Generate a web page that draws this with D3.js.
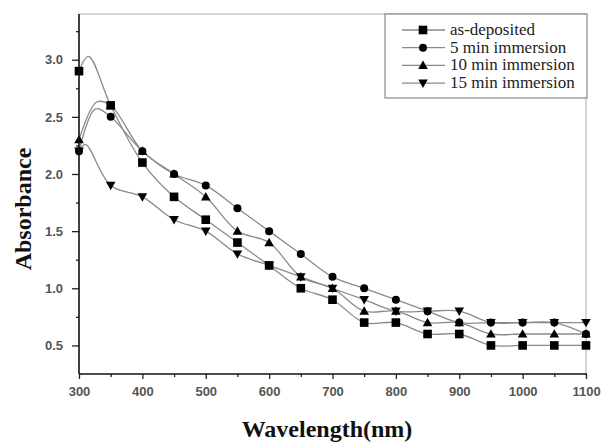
<!DOCTYPE html>
<html>
<head>
<meta charset="utf-8">
<script src="https://cdn.jsdelivr.net/npm/d3@7"></script>
<style>
  html, body { margin: 0; padding: 0; background: #fff; }
  svg { display: block; }
</style>
</head>
<body>
<svg id="chart" width="605" height="443"></svg>
<script>
// Wavelengths at which absorbance was sampled (nm)
const wavelength = [300, 350, 400, 450, 500, 550, 600, 650, 700, 750, 800, 850, 900, 950, 1000, 1050, 1100];

// Absorbance of each film
const asDeposited = [2.9, 2.6, 2.1, 1.8, 1.6, 1.4, 1.2, 1.0, 0.9, 0.7, 0.7, 0.6, 0.6, 0.5, 0.5, 0.5, 0.5];
const min5  = [2.2, 2.5, 2.2, 2.0, 1.9, 1.7, 1.5, 1.3, 1.1, 1.0, 0.9, 0.8, 0.7, 0.7, 0.7, 0.7, 0.6];
const min10 = [2.3, 2.6, 2.2, 2.0, 1.8, 1.5, 1.4, 1.1, 1.0, 0.8, 0.8, 0.7, 0.7, 0.6, 0.6, 0.6, 0.6];
const min15 = [2.2, 1.9, 1.8, 1.6, 1.5, 1.3, 1.2, 1.1, 1.0, 0.9, 0.8, 0.8, 0.8, 0.7, 0.7, 0.7, 0.7];

// Absorption edge maximum of each spectrum (nm, absorbance)
const crestNm  = [315, 326, 328, 310];
const crestAbs = [3.03, 2.57, 2.63, 2.26];

const seriesNames = ["as-deposited", "5 min immersion", "10 min immersion", "15 min immersion"];
const seriesSymbols = ["square", "circle", "triangleUp", "triangleDown"];

// Axis ticks
const xTicks = [300, 400, 500, 600, 700, 800, 900, 1000, 1100];
const xMinorTicks = [350, 450, 550, 650, 750, 850, 950, 1050];
const yTicks = [0.5, 1.0, 1.5, 2.0, 2.5, 3.0];
const yMinorTicks = [0.75, 1.25, 1.75, 2.25, 2.75, 3.25];

const seriesValues = [asDeposited, min5, min10, min15];
const series = seriesNames.map((name, i) => ({
  name,
  symbol: seriesSymbols[i],
  points: wavelength.map((w, j) => ({ x: w, y: seriesValues[i][j] })),
  crest: { x: crestNm[i], y: crestAbs[i] }
}));

const svg = d3.select("#chart");
const plotLeft = 79, plotRight = 586, plotTop = 14, plotBottom = 374;

const x = d3.scaleLinear().domain([300, 1100]).range([plotLeft, plotRight]);
const y = d3.scaleLinear().domain([0.25, 3.4]).range([plotBottom, plotTop]);

const lineGrey = "#8a8a8a";

// Frame: light top and right edges
svg.append("line").attr("x1", plotLeft).attr("x2", plotRight).attr("y1", plotTop).attr("y2", plotTop)
  .attr("stroke", "#aaa").attr("stroke-width", 1.2);
svg.append("line").attr("x1", plotRight).attr("x2", plotRight).attr("y1", plotTop).attr("y2", plotBottom)
  .attr("stroke", "#bbb").attr("stroke-width", 1.2);

// Curves through the samples
const line = d3.line()
  .x(d => x(d.x))
  .y(d => y(d.y))
  .curve(d3.curveCatmullRom.alpha(0.5));

const plot = svg.append("g");
series.forEach(s => {
  const pts = s.points.concat([s.crest]).sort((a, b) => a.x - b.x);
  plot.append("path")
    .attr("d", line(pts))
    .attr("fill", "none")
    .attr("stroke", lineGrey)
    .attr("stroke-width", 1.3);
});

// Marker shapes
function drawSymbol(g, kind, cx, cy) {
  if (kind === "square") {
    g.append("rect").attr("x", cx - 4.3).attr("y", cy - 4.3)
      .attr("width", 8.6).attr("height", 8.6).attr("fill", "#000");
  } else if (kind === "circle") {
    g.append("circle").attr("cx", cx).attr("cy", cy).attr("r", 4).attr("fill", "#000");
  } else if (kind === "triangleUp") {
    g.append("path").attr("d", `M${cx},${cy - 4.8}L${cx + 4.8},${cy + 3.6}L${cx - 4.8},${cy + 3.6}Z`)
      .attr("fill", "#000");
  } else {
    g.append("path").attr("d", `M${cx},${cy + 4.8}L${cx + 4.8},${cy - 3.6}L${cx - 4.8},${cy - 3.6}Z`)
      .attr("fill", "#000");
  }
}

const markers = svg.append("g");
series.forEach(s => {
  s.points.forEach(p => drawSymbol(markers, s.symbol, x(p.x), y(p.y)));
});

// Axes
const tickFont = "'Liberation Sans', Arial, sans-serif";

const xAxis = svg.append("g").attr("transform", `translate(0,${plotBottom})`)
  .call(d3.axisBottom(x).tickValues(xTicks).tickSize(5).tickPadding(8).tickFormat(d3.format("d")));
const xMinor = svg.append("g").attr("transform", `translate(0,${plotBottom})`)
  .call(d3.axisBottom(x).tickValues(xMinorTicks).tickSize(3).tickFormat(""));

const yAxis = svg.append("g").attr("transform", `translate(${plotLeft},0)`)
  .call(d3.axisLeft(y).tickValues(yTicks).tickSize(7).tickPadding(9).tickFormat(d3.format(".1f")));
const yMinor = svg.append("g").attr("transform", `translate(${plotLeft},0)`)
  .call(d3.axisLeft(y).tickValues(yMinorTicks).tickSize(3).tickFormat(""));

[xAxis, xMinor, yAxis, yMinor].forEach(a => {
  a.select(".domain").remove();
  a.selectAll(".tick line").attr("stroke", "#222").attr("stroke-width", 1.3);
  a.selectAll(".tick text")
    .attr("fill", "#555")
    .style("font-family", tickFont)
    .style("font-size", "13px")
    .style("font-weight", "bold");
});

// Axis lines
svg.append("line").attr("x1", plotLeft).attr("x2", plotRight + 1).attr("y1", plotBottom).attr("y2", plotBottom)
  .attr("stroke", "#111").attr("stroke-width", 1.6);
svg.append("line").attr("x1", plotLeft).attr("x2", plotLeft).attr("y1", plotTop).attr("y2", plotBottom)
  .attr("stroke", "#111").attr("stroke-width", 1.6);

// Axis titles
const titleFont = "'Liberation Serif', 'Times New Roman', serif";
svg.append("text")
  .attr("x", 327).attr("y", 437)
  .attr("text-anchor", "middle")
  .style("font-family", titleFont).style("font-size", "24px").style("font-weight", "bold")
  .attr("fill", "#111")
  .text("Wavelength(nm)");
svg.append("text")
  .attr("transform", "translate(31,209) rotate(-90)")
  .attr("text-anchor", "middle")
  .style("font-family", titleFont).style("font-size", "24px").style("font-weight", "bold")
  .attr("fill", "#111")
  .text("Absorbance");

// Legend
const legend = svg.append("g");
legend.append("rect")
  .attr("x", 385).attr("y", plotTop).attr("width", 202).attr("height", 84)
  .attr("fill", "#fff").attr("stroke", "#888").attr("stroke-width", 1.2);
series.forEach((s, i) => {
  const ly = 30 + i * 17.7;
  legend.append("line").attr("x1", 402).attr("x2", 445).attr("y1", ly).attr("y2", ly)
    .attr("stroke", lineGrey).attr("stroke-width", 1.3);
  drawSymbol(legend, s.symbol, 423, ly);
  legend.append("text")
    .attr("x", 450).attr("y", ly + 5)
    .style("font-family", titleFont).style("font-size", "17px")
    .attr("fill", "#222")
    .text(s.name);
});
</script>
</body>
</html>
